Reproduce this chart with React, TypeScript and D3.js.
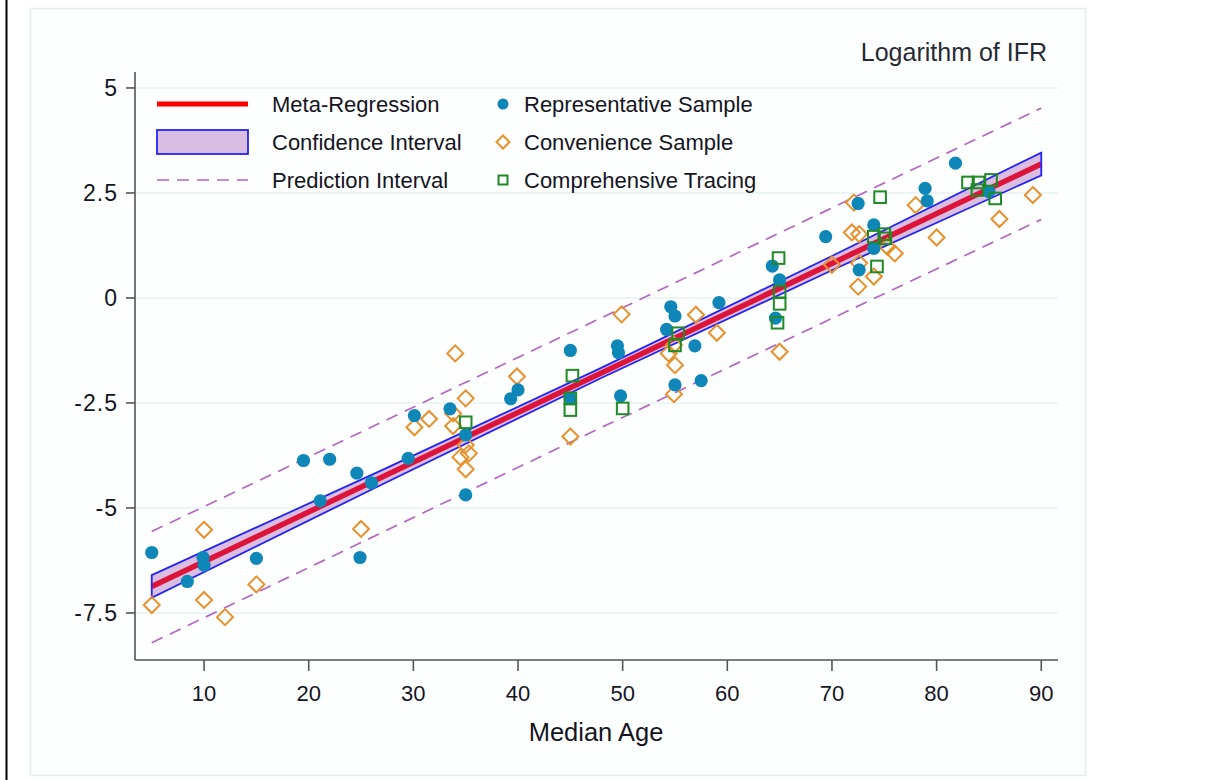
import * as d3 from 'd3';

// Log IFR by median age, three sample types
const representative: [number, number][] = [
  [5.0, -6.06], [8.4, -6.75], [9.9, -6.18], [10.0, -6.36], [15.0, -6.2],
  [19.5, -3.87], [21.1, -4.83], [22.0, -3.84], [24.6, -4.17], [24.9, -6.18],
  [26.0, -4.4], [29.5, -3.82], [30.1, -2.8], [33.5, -2.64], [35.0, -3.26],
  [35.0, -4.69], [39.3, -2.4], [40.0, -2.19], [45.0, -1.25], [45.0, -2.39],
  [49.5, -1.14], [49.6, -1.3], [49.8, -2.33], [54.6, -0.21], [55.0, -0.43],
  [54.2, -0.75], [56.9, -1.14], [59.2, -0.11], [55.0, -2.07], [57.5, -1.97],
  [64.3, 0.76], [65.0, 0.43], [64.6, -0.48], [69.4, 1.46], [72.5, 2.25],
  [74.0, 1.74], [74.0, 1.18], [72.6, 0.67], [78.9, 2.61], [79.1, 2.31],
  [81.8, 3.21], [85.0, 2.53],
];

const convenience: [number, number][] = [
  [5.0, -7.31], [10.0, -5.52], [10.0, -7.19], [12.0, -7.6], [15.0, -6.82],
  [25.0, -5.5], [30.1, -3.08], [31.5, -2.88], [34.0, -1.32], [33.8, -2.75],
  [33.8, -3.05], [35.0, -2.39], [35.0, -3.5], [34.5, -3.79], [35.3, -3.7],
  [35.0, -4.08], [39.9, -1.87], [45.0, -3.3], [49.9, -0.39], [54.4, -1.32],
  [55.0, -1.6], [54.9, -2.29], [54.9, -1.12], [57.0, -0.4], [59.0, -0.83],
  [65.0, -1.28], [70.0, 0.79], [72.1, 2.27], [71.9, 1.56], [72.6, 1.52],
  [72.6, 0.83], [72.5, 0.27], [74.0, 0.51], [75.3, 1.22], [76.0, 1.06],
  [78.0, 2.21], [80.0, 1.44], [86.0, 1.88], [89.2, 2.45],
];

const comprehensive: [number, number][] = [
  [35.0, -2.96], [45.2, -1.85], [45.0, -2.39], [45.0, -2.67], [50.0, -2.63],
  [55.3, -0.84], [55.0, -1.13], [64.9, 0.95], [65.0, 0.15], [65.0, -0.14],
  [64.8, -0.59], [74.6, 2.4], [74.0, 1.46], [75.0, 1.52], [75.1, 1.42],
  [74.3, 0.75], [83.0, 2.75], [83.9, 2.57], [84.0, 2.75], [85.2, 2.81],
  [85.6, 2.37],
];

// fitted line, confidence band and prediction band
const fitAges = [5, 90];
const fitValues = [-6.87, 3.19];
const ciAges = [5, 27, 48, 70, 90];
const ciLower = [-7.14, -4.44, -1.9, 0.66, 2.92];
const ciUpper = [-6.6, -4.1, -1.66, 1.0, 3.46];
const piAges = [5, 48, 90];
const piLower = [-8.21, -3.08, 1.87];
const piUpper = [-5.56, -0.47, 4.52];

const xTicks = [10, 20, 30, 40, 50, 60, 70, 80, 90];
const yTicks = [-7.5, -5, -2.5, 0, 2.5, 5];
const yTickLabels = ['-7.5', '-5', '-2.5', '0', '2.5', '5'];

const W = 1215;
const H = 780;
const FONT = "'Liberation Sans', Arial, sans-serif";
const TEXT = '#15151f';
const BLUE_DOT = '#0e87b8';
const ORANGE = '#e8902c';
const GREEN = '#1f8a26';
const PURPLE_DASH = '#b466c4';

export default function App() {
  const x = d3.scaleLinear().domain([3.4, 91.6]).range([135, 1058]);
  const y = d3.scaleLinear().domain([-8.62, 5.38]).range([660, 72]);

  const line = d3.line<[number, number]>().x((d) => x(d[0])).y((d) => y(d[1]));
  const fitPts = fitAges.map((a, i) => [a, fitValues[i]] as [number, number]);
  const ciLowPts = ciAges.map((a, i) => [a, ciLower[i]] as [number, number]);
  const ciUpPts = ciAges.map((a, i) => [a, ciUpper[i]] as [number, number]);
  const piLowPts = piAges.map((a, i) => [a, piLower[i]] as [number, number]);
  const piUpPts = piAges.map((a, i) => [a, piUpper[i]] as [number, number]);

  const band = d3
    .area<number>()
    .x((_, i) => x(ciAges[i]))
    .y0((_, i) => y(ciLower[i]))
    .y1((_, i) => y(ciUpper[i]));

  const diamond = (cx: number, cy: number, r: number) =>
    `M${cx},${cy - r}L${cx + r},${cy}L${cx},${cy + r}L${cx - r},${cy}Z`;

  const leg1 = 272;
  const leg2 = 524;
  const rows = [104, 142, 180];

  return (
    <div style={{ position: 'absolute', left: 0, top: 0 }}>
      <svg width={W} height={H} style={{ display: 'block', fontFamily: FONT }}>
        <rect width={W} height={H} fill="#ffffff" />
        <line x1={6.5} y1={0} x2={6.5} y2={H} stroke="#000" strokeWidth={2} />
        <rect x={30.5} y={8.5} width={1055} height={767} fill="#fdfefe" stroke="#e6edee" strokeWidth={1.5} />

        {/* grid */}
        {yTicks.map((t) => (
          <line key={t} x1={136} x2={1058} y1={y(t)} y2={y(t)} stroke="#e7f0f1" strokeWidth={1.6} />
        ))}

        {/* prediction interval */}
        <path d={line(piUpPts) ?? ''} fill="none" stroke={PURPLE_DASH} strokeWidth={1.7} strokeDasharray="12 8" />
        <path d={line(piLowPts) ?? ''} fill="none" stroke={PURPLE_DASH} strokeWidth={1.7} strokeDasharray="12 8" />

        {/* regression + CI */}
        <path d={line(fitPts) ?? ''} fill="none" stroke="#ff0000" strokeWidth={5.5} />
        <path d={band(ciAges) ?? ''} fill="rgb(150,60,170)" fillOpacity={0.333} stroke="none" />
        <path
          d={`${line(ciUpPts)}L${x(90)},${y(ciLower[ciLower.length - 1])}${line(ciLowPts.slice().reverse())?.replace('M', 'L')}Z`}
          fill="none"
          stroke="#2323f5"
          strokeWidth={1.8}
        />

        {/* markers */}
        {convenience.map((d, i) => (
          <path key={`c${i}`} d={diamond(x(d[0]), y(d[1]), 8)} fill="none" stroke={ORANGE} strokeWidth={2} />
        ))}
        {representative.map((d, i) => (
          <circle key={`r${i}`} cx={x(d[0])} cy={y(d[1])} r={6.6} fill={BLUE_DOT} />
        ))}
        {comprehensive.map((d, i) => (
          <rect key={`g${i}`} x={x(d[0]) - 5.8} y={y(d[1]) - 5.8} width={11.6} height={11.6} fill="none" stroke={GREEN} strokeWidth={2} />
        ))}

        {/* axes */}
        <line x1={135} x2={135} y1={72} y2={660} stroke="#555" strokeWidth={1.6} />
        <line x1={135} x2={1058} y1={660} y2={660} stroke="#555" strokeWidth={1.6} />
        {yTicks.map((t, i) => (
          <g key={`yt${t}`}>
            <line x1={126} x2={135} y1={y(t)} y2={y(t)} stroke="#555" strokeWidth={1.6} />
            <text x={118} y={y(t)} dy="0.35em" textAnchor="end" fontSize={23} letterSpacing={1} fill={TEXT}>
              {yTickLabels[i]}
            </text>
          </g>
        ))}
        {xTicks.map((t) => (
          <g key={`xt${t}`}>
            <line x1={x(t)} x2={x(t)} y1={660} y2={671} stroke="#555" strokeWidth={1.6} />
            <text x={x(t)} y={701} textAnchor="middle" fontSize={22} fill={TEXT}>
              {t}
            </text>
          </g>
        ))}
        <text x={596} y={741} textAnchor="middle" fontSize={25.5} fill={TEXT}>
          Median Age
        </text>
        <text x={1047} y={61} textAnchor="end" fontSize={25} fill="#262a36">
          Logarithm of IFR
        </text>

        {/* legend */}
        <line x1={157} x2={248} y1={rows[0]} y2={rows[0]} stroke="#ff0000" strokeWidth={5} />
        <rect x={157} y={130} width={91} height={24} fill="rgb(150,60,170)" fillOpacity={0.333} stroke="#2323f5" strokeWidth={1.8} />
        <line x1={157} x2={248} y1={rows[2]} y2={rows[2]} stroke={PURPLE_DASH} strokeWidth={1.7} strokeDasharray="12 8" />
        {['Meta-Regression', 'Confidence Interval', 'Prediction Interval'].map((s, i) => (
          <text key={s} x={leg1} y={rows[i]} dy="0.35em" fontSize={22} fill={TEXT}>
            {s}
          </text>
        ))}
        <circle cx={503} cy={rows[0]} r={5.5} fill={BLUE_DOT} />
        <path d={diamond(503, rows[1], 6.5)} fill="none" stroke={ORANGE} strokeWidth={2} />
        <rect x={498.5} y={rows[2] - 4.5} width={9} height={9} fill="none" stroke={GREEN} strokeWidth={2} />
        {['Representative Sample', 'Convenience Sample', 'Comprehensive Tracing'].map((s, i) => (
          <text key={s} x={leg2} y={rows[i]} dy="0.35em" fontSize={22} fill={TEXT}>
            {s}
          </text>
        ))}
      </svg>
    </div>
  );
}
